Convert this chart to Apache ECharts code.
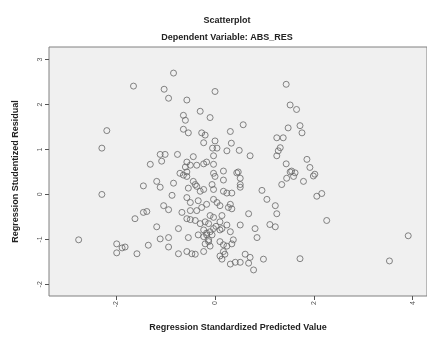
<!DOCTYPE html>
<html>
<head>
<meta charset="utf-8">
<script src="https://cdn.jsdelivr.net/npm/echarts@6/dist/echarts.min.js"></script>
<style>html,body{margin:0;padding:0;background:#fff;}#c{width:427px;height:337px;}</style>
</head>
<body>
<div id="c"></div>
<script>
const titleText = "Scatterplot";
const subtitleText = "Dependent Variable: ABS_RES";
const xAxisTitle = "Regression Standardized Predicted Value";
const yAxisTitle = "Regression Studentized Residual";
const xTicks = [-2, 0, 2, 4];
const yTicks = [-2, -1, 0, 1, 2, 3];
const xRange = [-3.36, 4.29];
const yRange = [-2.26, 3.28];

const predicted = [
-0.84,-1.65,-1.03,0.00,-0.94,-0.57,-0.30,-0.64,-0.10,-0.60,
-2.19,-0.64,-0.54,-0.27,-0.20,0.31,0.00,-0.23,0.33,-2.29,
-0.05,0.04,0.24,-1.11,-1.01,-0.76,-0.44,-0.03,-1.31,-1.08,
-0.57,-0.50,-0.60,-0.23,-0.17,-0.03,-0.37,0.17,-0.71,-0.57,
1.44,1.52,1.65,0.57,1.48,1.72,1.76,1.25,1.38,1.32,
1.28,1.25,0.49,0.71,1.86,1.44,1.92,1.55,1.62,2.02,
0.44,-2.29,-1.18,-1.11,-1.45,-0.84,-0.64,-0.57,-0.44,-0.37,
-0.30,-0.23,-0.54,-0.03,0.17,0.24,0.00,0.17,-0.87,-0.57,
-0.50,-0.34,-0.27,-0.17,-0.03,0.04,0.10,0.31,0.34,-1.04,
-0.94,-1.45,-1.38,-1.62,-0.67,-0.37,-0.57,-0.50,-0.40,-0.10,
-0.03,-0.20,-0.13,0.14,0.10,0.24,-1.18,-0.74,-0.23,-0.17,
-0.10,-0.06,-0.03,0.10,0.31,-0.23,-0.17,-0.54,-1.11,-0.94,
-2.76,-1.99,-1.88,-1.82,-1.35,-0.94,-0.20,-0.13,0.10,0.17,
0.24,0.34,-1.99,-1.58,-0.74,-0.57,-0.47,-0.40,-0.23,0.17,
0.20,0.14,0.31,0.41,-0.03,0.47,0.51,1.52,1.45,1.59,
1.79,1.99,1.35,0.95,0.51,2.06,2.16,1.05,1.22,0.68,
1.25,2.26,0.51,0.81,1.11,1.22,0.85,3.91,0.51,0.61,
0.71,0.68,0.98,0.78,1.72,3.53,-0.40,-0.06,0.34,0.51,
0.27,0.14,-0.13,-0.10,0.37,0.10,-0.30,-0.34,0.02,-0.50
];
const residual = [
2.70,2.41,2.34,2.29,2.14,2.10,1.85,1.76,1.71,1.65,
1.42,1.45,1.37,1.37,1.32,1.40,1.19,1.15,1.14,1.03,
1.03,1.03,0.97,0.89,0.89,0.89,0.84,0.86,0.67,0.74,
0.72,0.65,0.61,0.68,0.72,0.67,0.65,0.52,0.47,0.50,
2.45,1.99,1.89,1.55,1.48,1.53,1.37,1.26,1.26,1.04,
0.97,0.86,0.98,0.86,0.78,0.68,0.60,0.52,0.48,0.45,
0.48,0.00,0.29,0.16,0.19,0.25,0.43,0.40,0.29,0.18,
0.07,0.11,0.14,0.11,0.07,0.03,0.40,0.32,-0.02,-0.07,
-0.18,-0.14,-0.29,-0.22,-0.11,-0.18,-0.25,-0.22,-0.32,-0.25,
-0.34,-0.40,-0.38,-0.54,-0.40,-0.36,-0.54,-0.56,-0.58,-0.47,
-0.51,-0.61,-0.65,-0.47,-0.61,-0.68,-0.72,-0.76,-0.79,-0.86,
-0.83,-0.90,-0.76,-0.79,-0.83,-0.94,-0.90,-0.96,-0.99,-0.96,
-1.01,-1.10,-1.19,-1.17,-1.13,-1.17,-1.10,-1.05,-1.05,-1.12,
-1.15,-1.10,-1.30,-1.32,-1.32,-1.27,-1.32,-1.33,-1.27,-1.27,
-1.33,-1.44,-1.55,-1.51,0.47,0.50,0.36,0.50,0.36,0.40,
0.29,0.41,0.22,0.09,0.16,-0.04,0.02,-0.11,-0.25,-0.43,
-0.43,-0.58,-0.68,-0.76,-0.67,-0.72,-0.96,-0.92,-1.51,-1.33,
-1.40,-1.53,-1.44,-1.68,-1.43,-1.48,0.22,0.22,0.03,0.22,
-0.29,-0.76,-1.01,-1.15,-1.01,-1.37,-0.65,-0.90,-0.71,-0.36
];

const points = predicted.map((x, i) => [x, residual[i]]);

const chart = echarts.init(document.getElementById('c'), null, {renderer: 'canvas'});
const FONT = 'Liberation Sans, Arial, sans-serif';
chart.setOption({
  animation: false,
  backgroundColor: '#ffffff',
  title: [
    {text: titleText, left: 222, top: 11, textAlign: 'center',
     textStyle: {fontFamily: FONT, fontSize: 9, fontWeight: 'bold', color: '#222'}},
    {text: subtitleText, left: 222, top: 28, textAlign: 'center',
     textStyle: {fontFamily: FONT, fontSize: 9, fontWeight: 'bold', color: '#222'}}
  ],
  grid: {left: 49, top: 47, right: 0, bottom: 34, show: true,
         backgroundColor: '#f0f0f0', borderColor: '#808080', borderWidth: 1},
  xAxis: {
    type: 'value', min: xRange[0], max: xRange[1],
    name: xAxisTitle, nameLocation: 'middle', nameGap: 27,
    nameTextStyle: {fontFamily: FONT, fontSize: 9, fontWeight: 'bold', color: '#222'},
    axisLine: {show: false, onZero: false},
    axisTick: {show: true, customValues: xTicks, length: 4, lineStyle: {color: '#555'}},
    axisLabel: {customValues: xTicks, rotate: 90, margin: 5, fontFamily: FONT, fontSize: 7, color: '#555'},
    splitLine: {show: false}
  },
  yAxis: {
    type: 'value', min: yRange[0], max: yRange[1],
    name: yAxisTitle, nameLocation: 'middle', nameGap: 29,
    nameTextStyle: {fontFamily: FONT, fontSize: 9, fontWeight: 'bold', color: '#222'},
    axisLine: {show: false, onZero: false},
    axisTick: {show: true, customValues: yTicks, length: 4, lineStyle: {color: '#555'}},
    axisLabel: {customValues: yTicks, rotate: 90, margin: 5, fontFamily: FONT, fontSize: 7, color: '#555'},
    splitLine: {show: false}
  },
  series: [{
    type: 'scatter', data: points, symbol: 'circle', symbolSize: 6,
    itemStyle: {color: 'rgba(0,0,0,0)', borderColor: '#666', borderWidth: 1}
  }]
});
</script>
</body>
</html>
